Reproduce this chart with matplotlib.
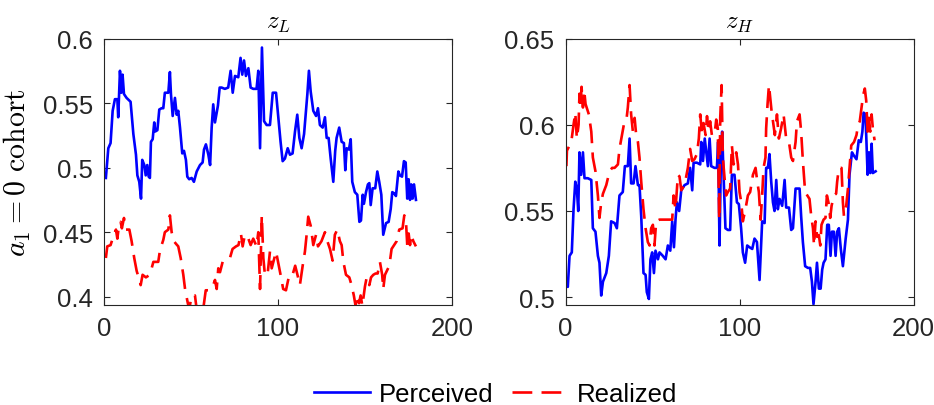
import numpy as np
import matplotlib.pyplot as plt

plt.rcParams["font.family"] = ["Liberation Sans", "DejaVu Sans"]
plt.rcParams["mathtext.fontset"] = "cm"

# z_L panel, perceived
xl_perc = [1.1, 2.5, 3.8, 5, 6.3, 7.7, 8.2, 9.2, 10, 10.7, 11.5, 13, 15.3, 16.9, 18.4,
           19.2, 20.3, 21.3, 22, 23.2, 24, 24.9, 25.7, 26.4, 27, 28, 28.9, 29.5, 30.7,
           31.8, 33.1, 34.1, 35, 37, 37.9, 38.5, 39.5, 40.8, 41.8, 42.7, 43.7, 45, 46,
           47.1, 47.9, 49, 50.4, 51.7, 53.3, 55.2, 56.7, 57.5, 58.6, 60, 61, 61.9, 62.8,
           63.8, 65.5, 66.5, 67.6, 69.5, 71.4, 72.8, 74, 75.3, 77.2, 78.5, 79.5, 80.5,
           81.6, 83, 84.3, 85.8, 87.7, 88.7, 89.7, 90.8, 92, 93.5, 95.4, 97, 98.9, 100.2,
           101.5, 102.7, 104, 105.6, 106.9, 108.4, 109.8, 111.1, 112.3, 113.6, 115, 116.1,
           116.9, 117.8, 118.8, 120.3, 121.9, 123, 124.1, 125.7, 127, 128, 129.1, 130.3,
           131.8, 132.9, 133.7, 135.2, 136.6, 137.9, 138.7, 139.5, 140.8, 141.8, 142.7,
           144.2, 145.6, 146.8, 147.7, 148.7, 149.4, 150.6, 151.7, 152.5, 153.3, 154.4,
           155.9, 157.1, 158.2, 159.4, 160.5, 162.1, 163.6, 164.8, 165.7, 166.9, 167.8,
           169.2, 170.1, 171.3, 172.4, 173.4, 174.3, 175.1, 175.9, 176.6, 177.4, 178.2,
           179.3]
yl_perc = [0.492, 0.515, 0.519, 0.544, 0.553, 0.553, 0.539, 0.575, 0.558, 0.572, 0.557,
           0.554, 0.551, 0.526, 0.51, 0.494, 0.489, 0.476, 0.506, 0.502, 0.494, 0.502,
           0.493, 0.492, 0.52, 0.522, 0.535, 0.528, 0.529, 0.545, 0.546, 0.546, 0.558,
           0.558, 0.574, 0.557, 0.54, 0.554, 0.541, 0.544, 0.531, 0.511, 0.513, 0.506,
           0.493, 0.491, 0.492, 0.489, 0.497, 0.502, 0.504, 0.514, 0.518, 0.51, 0.502,
           0.531, 0.549, 0.535, 0.548, 0.562, 0.562, 0.561, 0.562, 0.575, 0.558, 0.571,
           0.57, 0.585, 0.572, 0.583, 0.571, 0.577, 0.562, 0.561, 0.561, 0.575, 0.515,
           0.593, 0.536, 0.533, 0.533, 0.558, 0.558, 0.539, 0.52, 0.505, 0.507, 0.515,
           0.51, 0.511, 0.528, 0.541, 0.523, 0.515, 0.526, 0.544, 0.557, 0.575, 0.559,
           0.544, 0.54, 0.546, 0.533, 0.531, 0.539, 0.523, 0.523, 0.507, 0.489, 0.513,
           0.523, 0.531, 0.52, 0.519, 0.498, 0.515, 0.514, 0.522, 0.489, 0.481, 0.479,
           0.458, 0.459, 0.479, 0.472, 0.481, 0.487, 0.488, 0.471, 0.484, 0.484, 0.497,
           0.489, 0.479, 0.448, 0.457, 0.458, 0.468, 0.481, 0.48, 0.478, 0.497, 0.494,
           0.493, 0.505, 0.504, 0.476, 0.491, 0.475, 0.487, 0.476, 0.487, 0.475]

# z_L panel, realized
xl_real = [1.1, 1.9, 3.8, 5.7, 6.9, 7.7, 8.6, 9.6, 10.3, 11.5, 12.6, 14.6, 15.9, 17.4,
           18.8, 19.9, 21.1, 22.2, 24.1, 26.4, 28.4, 31.2, 32.2, 34.1, 35, 37, 37.9, 38.9,
           40.2, 41.4, 42.7, 44.1, 45.6, 46.6, 47.9, 49, 50.4, 52.3, 53.3, 55, 57, 58.5,
           60.5, 62.8, 63.8, 64.8, 65.7, 66.7, 68.2, 70.5, 72.4, 73.9, 75.9, 77.3, 78.7,
           79.7, 81, 83, 84.3, 85.8, 87.7, 88.7, 89.7, 90.7, 91.6, 92.5, 94, 95.4, 96.4,
           98.9, 100.2, 101.5, 103, 104.6, 106.5, 108.4, 109.9, 111.2, 112.6, 114.2, 115.5,
           116.4, 117.4, 118.8, 120.3, 121.9, 123, 125, 127, 128.4, 129.9, 131.4, 132.7,
           134.1, 135.6, 136.6, 137.6, 139.1, 141, 142.3, 143.6, 144.6, 145.6, 146.6, 147.5,
           148.5, 150, 151, 152.5, 153.5, 154.8, 156.1, 157.3, 158.6, 159.9, 160.5, 161.5,
           164, 165.3, 168.2, 169.7, 171.6, 172.6, 173.5, 174.3, 175.1, 175.9, 176.6,
           177.8, 179.3]
yl_real = [0.43, 0.439, 0.44, 0.448, 0.452, 0.445, 0.455, 0.458, 0.453, 0.461, 0.452,
           0.452, 0.443, 0.43, 0.42, 0.415, 0.409, 0.417, 0.415, 0.417, 0.427, 0.427,
           0.436, 0.444, 0.45, 0.452, 0.463, 0.45, 0.443, 0.441, 0.439, 0.43, 0.417, 0.406,
           0.397, 0.39, 0.401, 0.401, 0.39, 0.386, 0.39, 0.405, 0.405, 0.409, 0.413, 0.406,
           0.422, 0.419, 0.427, 0.428, 0.43, 0.437, 0.439, 0.44, 0.449, 0.439, 0.448,
           0.445, 0.44, 0.445, 0.439, 0.45, 0.406, 0.463, 0.43, 0.417, 0.417, 0.435, 0.422,
           0.435, 0.426, 0.417, 0.406, 0.405, 0.417, 0.417, 0.424, 0.417, 0.409, 0.424,
           0.435, 0.447, 0.462, 0.455, 0.44, 0.448, 0.439, 0.443, 0.45, 0.443, 0.437,
           0.428, 0.448, 0.452, 0.443, 0.44, 0.427, 0.417, 0.415, 0.409, 0.401, 0.393,
           0.401, 0.395, 0.401, 0.393, 0.408, 0.415, 0.409, 0.415, 0.417, 0.418, 0.418,
           0.427, 0.417, 0.406, 0.417, 0.424, 0.437, 0.443, 0.452, 0.453, 0.463, 0.46,
           0.44, 0.449, 0.44, 0.448, 0.443, 0.439]

# z_H panel, perceived
xh_perc = [0.5, 1.3, 2.3, 3.6, 4.6, 5.6, 6.5, 7.3, 8, 9, 10, 10.9, 12.8, 14.8, 15.7, 17.2,
           18.6, 19.5, 20.5, 21.5, 23.4, 24.9, 26.2, 28.2, 29.5, 31, 32.9, 34.1, 35.8,
           36.8, 37.7, 39.1, 40.2, 41.6, 42.5, 43.5, 44.8, 46, 46.7, 47.9, 48.8, 49.8, 50.8,
           51.7, 53.1, 54, 55.9, 57.5, 58.8, 60.2, 61.3, 62.3, 63.2, 64, 65.3, 66.5, 68.4,
           70.3, 71.6, 72.8, 73.6, 75.5, 77.4, 78, 79, 80, 80.9, 81.8, 82.8, 83.7, 85.6, 87,
           87.7, 88.5, 89.3, 90, 90.8, 91.9, 93.3, 94.6, 95.6, 97.1, 98.5, 99.6, 100.9,
           101.9, 103.2, 104.4, 105.7, 107.3, 108.6, 110, 111.5, 113, 114.4, 115.3, 116.3,
           117.2, 118.2, 119.2, 120.1, 121.1, 122, 123, 124.5, 125.9, 126.8, 128.4, 129.7,
           130.7, 132.2, 133.5, 134.5, 135.4, 136.4, 137.7, 139.3, 140.6, 141.6, 142.5,
           143.7, 144.5, 145.6, 146.6, 147.5, 148.3, 149.4, 150.4, 151.3, 152.3, 153.1,
           154.2, 155.2, 156.1, 157.1, 158.2, 159.4, 161, 162.3, 163.2, 164.6, 165.8, 167.2,
           168.5, 169.7, 170.6, 171.3, 172.3, 172.8, 173.6, 174.4, 175.1, 175.9, 176.6,
           178.2]
yh_perc = [0.51, 0.506, 0.524, 0.526, 0.551, 0.567, 0.563, 0.55, 0.584, 0.571, 0.584,
           0.569, 0.569, 0.568, 0.54, 0.538, 0.524, 0.52, 0.501, 0.509, 0.514, 0.524, 0.544,
           0.543, 0.54, 0.559, 0.561, 0.576, 0.576, 0.592, 0.566, 0.566, 0.576, 0.565,
           0.565, 0.547, 0.514, 0.513, 0.503, 0.499, 0.522, 0.526, 0.514, 0.527, 0.522,
           0.526, 0.524, 0.522, 0.53, 0.527, 0.544, 0.529, 0.545, 0.555, 0.55, 0.562, 0.565,
           0.566, 0.575, 0.562, 0.578, 0.578, 0.577, 0.59, 0.579, 0.592, 0.584, 0.576,
           0.592, 0.576, 0.575, 0.575, 0.59, 0.53, 0.582, 0.596, 0.571, 0.54, 0.539, 0.539,
           0.571, 0.571, 0.555, 0.554, 0.54, 0.526, 0.52, 0.53, 0.529, 0.528, 0.534, 0.532,
           0.51, 0.544, 0.543, 0.575, 0.575, 0.583, 0.567, 0.555, 0.55, 0.568, 0.551, 0.557,
           0.553, 0.568, 0.552, 0.552, 0.539, 0.54, 0.563, 0.563, 0.563, 0.547, 0.532,
           0.518, 0.517, 0.517, 0.509, 0.496, 0.509, 0.52, 0.505, 0.505, 0.516, 0.52, 0.522,
           0.542, 0.542, 0.524, 0.538, 0.538, 0.524, 0.538, 0.54, 0.528, 0.518, 0.534,
           0.545, 0.571, 0.584, 0.582, 0.58, 0.591, 0.59, 0.596, 0.607, 0.606, 0.594, 0.571,
           0.584, 0.572, 0.589, 0.572, 0.573]

# z_H panel, realized
xh_real = [0.5, 0.8, 3.3, 4.6, 5.6, 6.5, 7.5, 8, 8.6, 9.2, 10, 10.7, 11.5, 13.4, 14.8,
           15.7, 17.2, 18.6, 19.5, 20.5, 21.5, 23.4, 25.3, 26.8, 28.2, 30.1, 31, 32.4, 33.5,
           34.9, 35.8, 36.8, 37.7, 38.7, 39.7, 40.6, 41.6, 42.5, 43.5, 44.8, 46, 47.3, 48.3,
           49.2, 50.2, 51.1, 52.1, 54, 56.9, 59.8, 61.3, 62.1, 63.2, 64.6, 65.5, 66.5, 68.4,
           70.3, 71.6, 72.8, 74.1, 75.5, 76.6, 77.4, 78.5, 79.3, 80.5, 81.3, 82.2, 83.1,
           84.1, 85.6, 86.6, 87.5, 88.3, 88.9, 89.7, 90.4, 91.4, 92.3, 93.3, 94.6, 95.6,
           96.6, 98.1, 99.1, 100, 101, 101.9, 103.4, 104.8, 106.1, 107.7, 109.2, 110.2,
           111.1, 112.1, 113, 113.8, 114.9, 115.3, 116.1, 116.9, 117.6, 118.4, 119.2, 120.3,
           121.5, 122.6, 123.9, 125.3, 126.8, 128.4, 129.7, 130.7, 132.2, 133, 134.5, 135.4,
           136.4, 137, 137.7, 140.2, 141.2, 142.2, 142.8, 143.7, 144.6, 145.6, 146.4, 147.1,
           148.3, 149.4, 150.2, 151.1, 152.1, 152.9, 154.2, 155.5, 156.1, 157.1, 158.6,
           159.4, 160, 161.3, 162.3, 163.2, 164.2, 165.8, 167.2, 168.1, 169.1, 170.1, 171,
           172, 172.8, 173.6, 174.4, 175.1, 175.9, 176.6, 177.6]
yh_real = [0.576, 0.585, 0.59, 0.6, 0.607, 0.592, 0.6, 0.618, 0.61, 0.622, 0.61, 0.62,
           0.612, 0.606, 0.596, 0.581, 0.573, 0.559, 0.546, 0.555, 0.56, 0.565, 0.573,
           0.575, 0.575, 0.577, 0.586, 0.594, 0.6, 0.602, 0.61, 0.623, 0.606, 0.596, 0.604,
           0.594, 0.59, 0.581, 0.567, 0.551, 0.54, 0.532, 0.53, 0.54, 0.542, 0.53, 0.544,
           0.545, 0.545, 0.545, 0.545, 0.559, 0.551, 0.571, 0.57, 0.562, 0.565, 0.575,
           0.586, 0.579, 0.58, 0.583, 0.592, 0.606, 0.594, 0.601, 0.594, 0.605, 0.596,
           0.602, 0.594, 0.594, 0.603, 0.598, 0.545, 0.604, 0.623, 0.581, 0.569, 0.559,
           0.561, 0.563, 0.588, 0.577, 0.584, 0.577, 0.561, 0.555, 0.544, 0.551, 0.559,
           0.561, 0.571, 0.575, 0.567, 0.561, 0.545, 0.559, 0.575, 0.581, 0.598, 0.612,
           0.623, 0.616, 0.608, 0.602, 0.594, 0.606, 0.592, 0.598, 0.606, 0.592, 0.59,
           0.581, 0.579, 0.59, 0.602, 0.606, 0.596, 0.579, 0.571, 0.561, 0.557, 0.547,
           0.54, 0.53, 0.544, 0.535, 0.536, 0.53, 0.542, 0.545, 0.546, 0.559, 0.555, 0.546,
           0.553, 0.559, 0.56, 0.567, 0.575, 0.575, 0.555, 0.547, 0.553, 0.563, 0.575,
           0.588, 0.59, 0.594, 0.6, 0.602, 0.61, 0.617, 0.621, 0.614, 0.596, 0.604, 0.596,
           0.606, 0.598, 0.591]

titles = ["$z_L$", "$z_H$"]
ylims = [(0.3936, 0.6), (0.4955, 0.65)]
yticks = [[0.4, 0.45, 0.5, 0.55, 0.6], [0.5, 0.55, 0.6, 0.65]]
yticklabels = [["0.4", "0.45", "0.5", "0.55", "0.6"], ["0.5", "0.55", "0.6", "0.65"]]

fig = plt.figure(figsize=(9.34, 4.06), dpi=100)
axl = fig.add_axes([0.1113, 0.2463, 0.3726, 0.6564])
axr = fig.add_axes([0.6055, 0.2463, 0.3726, 0.6564])

dark = (0.15, 0.15, 0.15)
series = [(axl, xl_perc, yl_perc, xl_real, yl_real), (axr, xh_perc, yh_perc, xh_real, yh_real)]
for i, (ax, xp, yp, xr, yr) in enumerate(series):
    ax.plot(xp, yp, color="#0000ff", lw=1.9, label="Perceived")
    ax.plot(xr, yr, color="#ff0000", lw=1.9, ls="--", dashes=(7.5, 3.5), label="Realized")
    ax.set_xlim(0, 200)
    ax.set_ylim(*ylims[i])
    ax.set_xticks([0, 100, 200])
    ax.set_yticks(yticks[i])
    ax.set_yticklabels(yticklabels[i])
    ax.tick_params(direction="in", length=4, width=0.8, colors=dark, labelsize=18.5,
                   top=True, right=True, pad=8)
    for s in ax.spines.values():
        s.set_color(dark)
        s.set_linewidth(0.8)
    ax.set_title(titles[i], fontsize=18, pad=8, color="k")

fig.text(17 / 934, 0.574, r"$a_1 = 0\ \mathrm{cohort}$", fontsize=21.5, rotation=90,
         ha="center", va="center")

h, lab = axl.get_legend_handles_labels()
fig.legend(h, lab, loc="center", bbox_to_anchor=(0.531, 0.027), ncol=2, frameon=False,
           fontsize=18.5, handlelength=2.16, handletextpad=0.36, columnspacing=0.72)

fig.savefig("out.png", dpi=100)
